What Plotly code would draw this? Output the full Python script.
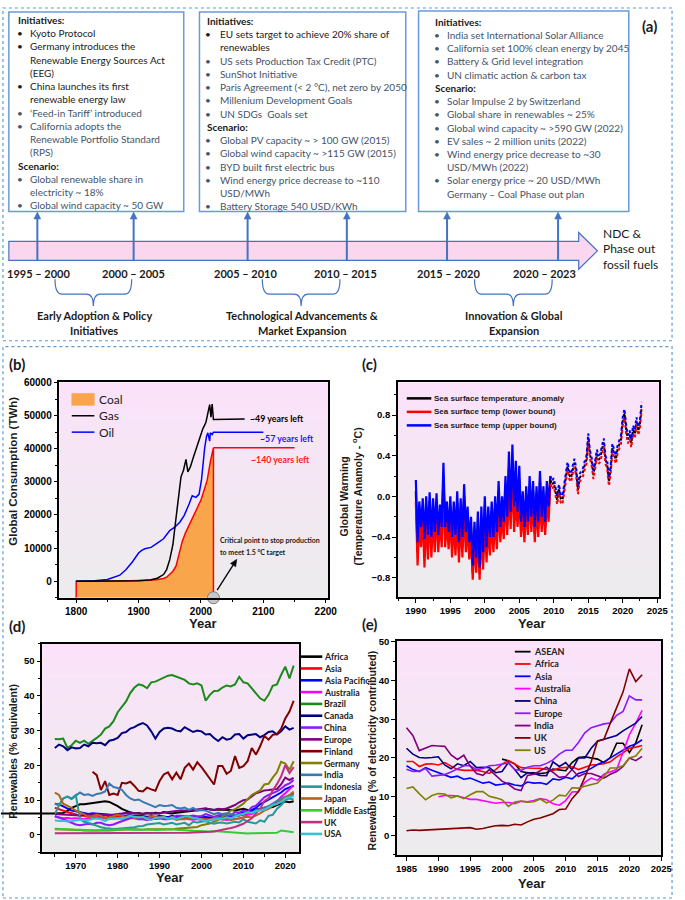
import plotly.graph_objects as go

W, H = 685, 900

# ======================= DATA =======================
# ---- (a) timeline text ----
BOX1_LINES = [
    ("h", "k", "Initiatives:"),
    ("b", "k", "Kyoto Protocol"),
    ("b", "k", "Germany introduces the"),
    ("c", "k", "Renewable Energy Sources Act"),
    ("c", "k", "(EEG)"),
    ("b", "k", "China launches its first"),
    ("c", "k", "renewable energy law"),
    ("b", "g", "‘Feed-in Tariff’ introduced"),
    ("b", "g", "California adopts the"),
    ("c", "g", "Renewable Portfolio Standard"),
    ("c", "g", "(RPS)"),
    ("h", "k", "Scenario:"),
    ("b", "g", "Global renewable share in"),
    ("c", "g", "electricity ~ 18%"),
    ("b", "g", "Global wind capacity ~ 50 GW"),
]
BOX2_LINES = [
    ("h", "k", "Initiatives:"),
    ("b", "k", "EU sets target to achieve 20% share of"),
    ("c", "k", "renewables"),
    ("b", "g", "US sets Production Tax Credit (PTC)"),
    ("b", "g", "SunShot Initiative"),
    ("b", "g", "Paris Agreement (< 2 °C), net zero by 2050"),
    ("b", "g", "Millenium Development Goals"),
    ("b", "g", "UN SDGs  Goals set"),
    ("h", "k", "Scenario:"),
    ("b", "g", "Global PV capacity ~ > 100 GW (2015)"),
    ("b", "g", "Global wind capacity ~ >115 GW (2015)"),
    ("b", "g", "BYD built first electric bus"),
    ("b", "g", "Wind energy price decrease to ~110"),
    ("c", "g", "USD/MWh"),
    ("b", "g", "Battery Storage 540 USD/KWh"),
]
BOX3_LINES = [
    ("h", "k", "Initiatives:"),
    ("b", "g", "India set International Solar Alliance"),
    ("b", "g", "California set 100% clean energy by 2045"),
    ("b", "g", "Battery & Grid level integration"),
    ("b", "g", "UN climatic action & carbon tax"),
    ("h", "k", "Scenario:"),
    ("b", "g", "Solar Impulse 2 by Switzerland"),
    ("b", "g", "Global share in renewables ~ 25%"),
    ("b", "g", "Global wind capacity ~ >590 GW (2022)"),
    ("b", "g", "EV sales ~ 2 million units (2022)"),
    ("b", "g", "Wind energy price decrease to ~30"),
    ("c", "g", "USD/MWh (2022)"),
    ("b", "g", "Solar energy price ~ 20 USD/MWh"),
    ("c", "g", "Germany – Coal Phase out plan"),
]
PERIOD_LABELS = ["1995 – 2000", "2000 – 2005", "2005 – 2010", "2010 – 2015", "2015 – 2020", "2020 – 2023"]
PHASE_LABELS = [("Early Adoption & Policy", "Initiatives"),
                ("Technological Advancements &", "Market Expansion"),
                ("Innovation & Global", "Expansion")]
END_LABEL = ["NDC &", "Phase out", "fossil fuels"]

# ---- (b) fossil fuel consumption (TWh) ----
B_NAMES = ["Coal", "Gas", "Oil"]
COAL_YEARS = [1800, 1850, 1900, 1920, 1930, 1940, 1945, 1950, 1955, 1960, 1965, 1970, 1975, 1980,
              1985, 1990, 1995, 2000, 2005, 2010, 2015, 2020]
COAL_TWH = [0, 0, 100, 300, 500, 800, 1200, 2000, 3000, 4500, 8000, 12000, 14500, 16500,
            18500, 20000, 22000, 24500, 27500, 30500, 36000, 40300]
COAL_PROJ_YEARS = [2020, 2150]
COAL_PROJ_TWH = [40300, 40300]
GAS_YEARS = [1800, 1850, 1900, 1920, 1930, 1940, 1945, 1950, 1955, 1960, 1965, 1968, 1972, 1976,
             1979, 1983, 1988, 1993, 1998, 2003, 2008, 2010, 2012, 2014, 2016, 2018, 2020]
GAS_TWH = [0, 0, 100, 400, 900, 2000, 3500, 6500, 11000, 19000, 27000, 31500, 33500, 36800,
           33000, 34500, 37500, 40500, 43000, 46000, 48000, 50000, 51000, 53300, 49500, 53500, 48800]
GAS_PROJ_YEARS = [2020, 2045, 2046, 2070]
GAS_PROJ_TWH = [48800, 48800, 49000, 49000]
OIL_YEARS = [1800, 1830, 1850, 1870, 1880, 1890, 1900, 1905, 1910, 1920, 1930, 1940, 1950, 1958,
             1966, 1973, 1981, 1986, 1992, 1997, 2001, 2004, 2006, 2009, 2011, 2014, 2015, 2018, 2020]
OIL_TWH = [0, 100, 500, 1800, 3500, 5800, 8500, 9300, 9800, 10200, 11500, 12800, 15300, 16300,
           17800, 19800, 23300, 25800, 25300, 26300, 30800, 37300, 40300, 43800, 44800, 42300, 44800, 44300, 45000]
OIL_PROJ_YEARS = [2020, 2100]
OIL_PROJ_TWH = [45000, 45000]
B_LABELS = ["~140 years left", "~49 years left", "~57 years left"]

# ---- (c) sea surface temperature anomaly, quarterly from 1990 ----
SST_START = 1990
SST_NAMES = ["Sea surface temperature_anomaly", "Sea surface temp (lower bound)", "Sea surface temp (upper bound)"]
SST_UPPER = [
    0.16, -0.45, -0.05, -0.30, -0.02, -0.42, 0.00, -0.38, 0.04, -0.40, -0.02, -0.35,
    0.03, -0.38, -0.08, -0.30, 0.33, -0.30, -0.05, -0.35, 0.00, -0.40, -0.05, -0.38,
    0.05, -0.45, -0.02, -0.40, 0.12, -0.35, -0.10, -0.45, -0.20, -0.68, -0.25, -0.60,
    -0.15, -0.70, -0.10, -0.55, 0.00, -0.50, -0.10, -0.40, -0.05, -0.40, 0.00, -0.35,
    0.15, -0.30, 0.00, -0.25, 0.20, -0.20, 0.44, -0.15, 0.51, -0.10, 0.35, -0.15,
    0.30, -0.25, 0.05, -0.30, 0.10, -0.25, 0.20, -0.20, 0.15, -0.30, 0.10, -0.25,
    0.25, -0.20, 0.10, -0.25, 0.15, -0.10, 0.20, 0.15, 0.18, 0.10, 0.00, 0.12,
    0.02, 0.00, 0.10, 0.20, 0.34, 0.25, 0.22, 0.30, 0.37, 0.28, 0.10, 0.22,
    0.25, 0.28, 0.35, 0.40, 0.62, 0.45, 0.38, 0.25, 0.35, 0.46, 0.40, 0.42,
    0.50, 0.57, 0.40, 0.35, 0.18, 0.30, 0.52, 0.45, 0.40, 0.50, 0.55, 0.60,
    0.78, 0.86, 0.70, 0.60, 0.65, 0.56, 0.70, 0.65, 0.78, 0.68, 0.75, 0.93]
SST_LOWER = [
    -0.05, -0.68, -0.25, -0.50, -0.20, -0.70, -0.20, -0.62, -0.15, -0.60, -0.22, -0.55,
    -0.15, -0.55, -0.25, -0.50, 0.10, -0.50, -0.25, -0.52, -0.20, -0.60, -0.25, -0.58,
    -0.15, -0.65, -0.22, -0.60, -0.10, -0.55, -0.30, -0.62, -0.40, -0.82, -0.45, -0.75,
    -0.35, -0.82, -0.30, -0.72, -0.20, -0.65, -0.30, -0.58, -0.25, -0.55, -0.20, -0.52,
    -0.05, -0.45, -0.20, -0.42, 0.00, -0.38, 0.15, -0.32, 0.20, -0.35, -0.05, -0.30,
    0.05, -0.40, -0.15, -0.45, -0.10, -0.38, 0.00, -0.35, -0.05, -0.45, -0.10, -0.40,
    0.05, -0.35, -0.10, -0.38, -0.05, -0.25, 0.12, 0.07, 0.10, 0.02, -0.08, 0.04,
    -0.06, -0.08, 0.02, 0.12, 0.26, 0.17, 0.14, 0.22, 0.29, 0.20, 0.02, 0.14,
    0.17, 0.20, 0.27, 0.32, 0.54, 0.37, 0.30, 0.17, 0.27, 0.38, 0.32, 0.34,
    0.42, 0.49, 0.32, 0.27, 0.10, 0.22, 0.44, 0.37, 0.32, 0.42, 0.47, 0.52,
    0.70, 0.78, 0.62, 0.52, 0.57, 0.48, 0.62, 0.57, 0.70, 0.60, 0.67, 0.85]
SST_ANOM = [
    0.05, -0.55, -0.15, -0.40, -0.10, -0.55, -0.10, -0.50, -0.05, -0.50, -0.12, -0.45,
    -0.05, -0.46, -0.16, -0.40, 0.20, -0.40, -0.15, -0.43, -0.10, -0.50, -0.15, -0.48,
    -0.05, -0.55, -0.12, -0.50, 0.00, -0.45, -0.20, -0.53, -0.30, -0.75, -0.35, -0.68,
    -0.25, -0.76, -0.20, -0.63, -0.10, -0.57, -0.20, -0.49, -0.15, -0.47, -0.10, -0.43,
    0.05, -0.37, -0.10, -0.33, 0.10, -0.29, 0.28, -0.23, 0.28, -0.15, 0.15, -0.22,
    0.17, -0.32, -0.05, -0.37, 0.00, -0.31, 0.10, -0.27, 0.05, -0.37, 0.00, -0.32,
    0.15, -0.27, 0.00, -0.31, 0.05, -0.17, 0.16, 0.11, 0.14, 0.06, -0.04, 0.08,
    -0.02, -0.04, 0.06, 0.16, 0.30, 0.21, 0.18, 0.26, 0.33, 0.24, 0.06, 0.18,
    0.21, 0.24, 0.31, 0.36, 0.58, 0.41, 0.34, 0.21, 0.31, 0.42, 0.36, 0.38,
    0.46, 0.53, 0.36, 0.31, 0.14, 0.26, 0.48, 0.41, 0.36, 0.46, 0.51, 0.56,
    0.74, 0.82, 0.66, 0.56, 0.61, 0.52, 0.66, 0.61, 0.74, 0.64, 0.71, 0.89]
SST_DOTTED_FROM = 2009.5

# ---- (d) renewables, % primary energy (equivalent), 1965-2022 ----
D_START = 1965
D_AFRICA = [6.2, 6.3, 6.3, 7.0, 7.8, 8.3, 8.8, 8.8, 9.0, 9.1,
            9.3, 9.5, 9.7, 9.5, 9.0, 8.3, 7.5, 6.9, 6.5, 6.2,
            6.3, 6.0, 6.3, 6.1, 6.4, 6.2, 6.6, 6.3, 6.2, 6.4,
            6.5, 6.7, 6.8, 7.0, 7.1, 7.3, 7.5, 7.4, 7.2, 7.3,
            7.3, 7.4, 7.2, 7.0, 7.3, 7.5, 7.2, 7.0, 7.3, 7.5,
            7.6, 7.7, 8.0, 8.6, 9.2, 9.6, 9.4, 9.7]
D_ASIA = [7.8, 7.5, 7.0, 6.6, 6.2, 5.8, 5.5, 5.5, 5.2, 5.5,
          5.6, 5.3, 5.0, 5.2, 5.3, 5.4, 5.5, 5.4, 5.6, 5.3,
          5.4, 5.2, 5.0, 5.2, 5.0, 5.3, 5.1, 5.0, 5.3, 4.9,
          5.1, 5.0, 5.0, 5.2, 5.0, 5.0, 4.9, 4.8, 4.6, 4.9,
          4.9, 5.0, 5.0, 5.4, 5.6, 6.0, 6.0, 6.5, 7.0, 7.5,
          7.8, 8.2, 8.6, 9.2, 9.8, 10.8, 11.2, 12.0]
D_ASIA_PACIFIC = [9.0, 8.8, 8.2, 7.6, 7.0, 6.8, 6.5, 6.3, 6.0, 6.2,
                  6.1, 6.0, 5.8, 5.9, 5.7, 5.8, 5.6, 5.5, 5.7, 5.4,
                  5.6, 5.4, 5.2, 5.4, 5.2, 5.5, 5.3, 5.1, 5.5, 5.1,
                  5.3, 5.2, 5.2, 5.4, 5.2, 5.3, 5.1, 5.0, 4.9, 5.1,
                  5.1, 5.2, 5.2, 5.6, 6.0, 6.5, 6.6, 7.2, 7.8, 8.8,
                  9.5, 10.3, 11.0, 11.6, 12.2, 13.2, 13.6, 14.2]
D_AUSTRALIA = [5.2, 5.0, 4.8, 4.9, 4.7, 4.8, 4.6, 4.5, 4.7, 4.8,
               4.9, 5.0, 4.7, 4.6, 4.8, 4.9, 4.7, 4.5, 4.9, 5.0,
               4.8, 4.7, 4.9, 4.8, 4.6, 4.8, 4.9, 4.6, 4.8, 4.5,
               4.6, 4.7, 4.5, 4.4, 4.6, 4.3, 4.4, 4.2, 4.5, 4.6,
               4.5, 4.3, 4.4, 4.6, 4.7, 5.0, 5.8, 6.0, 6.8, 7.5,
               7.3, 7.8, 8.5, 9.5, 11.0, 12.0, 13.2, 14.3]
D_BRAZIL = [27.6, 27.5, 27.7, 25.0, 25.8, 27.1, 26.5, 27.1, 26.2, 27.0,
            27.9, 28.9, 30.6, 31.2, 32.7, 35.3, 36.7, 38.4, 40.8, 42.4,
            43.3, 43.0, 42.2, 43.9, 44.1, 44.6, 45.2, 45.8, 46.0, 45.5,
            45.0, 44.6, 43.6, 43.3, 43.6, 43.0, 38.6, 40.3, 41.4, 41.5,
            42.4, 43.0, 42.7, 43.3, 45.5, 43.9, 43.6, 42.2, 40.8, 39.3,
            38.6, 40.3, 42.9, 43.3, 46.0, 48.4, 45.0, 48.7]
D_CANADA = [25.0, 26.0, 25.5, 24.4, 25.2, 24.9, 25.0, 26.0, 25.5, 26.5,
            26.4, 26.5, 25.8, 27.1, 27.4, 27.9, 29.3, 29.6, 30.6, 31.0,
            31.7, 32.2, 31.5, 29.8, 27.7, 29.6, 30.6, 30.8, 30.6, 30.0,
            29.8, 31.0, 30.3, 29.6, 30.0, 29.8, 28.9, 29.0, 27.9, 27.0,
            28.1, 27.4, 27.7, 28.9, 29.0, 27.7, 28.7, 28.9, 29.0, 28.1,
            28.7, 29.6, 29.8, 28.9, 29.8, 31.2, 30.3, 30.8]
D_CHINA = [5.5, 5.0, 4.5, 4.0, 3.5, 3.0, 2.8, 3.0, 3.2, 3.0,
           3.5, 3.5, 3.0, 2.8, 3.0, 3.5, 4.0, 4.5, 4.8, 4.8,
           4.5, 4.5, 4.3, 4.5, 4.6, 4.8, 4.5, 4.5, 5.0, 5.5,
           5.5, 5.4, 5.4, 5.6, 5.3, 5.4, 6.0, 5.6, 5.2, 5.7,
           5.8, 5.5, 5.6, 6.6, 6.4, 7.0, 6.6, 8.0, 8.4, 9.6,
           10.8, 11.5, 12.0, 12.5, 13.3, 14.3, 14.8, 15.8]
D_EUROPE = [6.0, 6.0, 5.9, 5.8, 5.7, 5.6, 5.6, 5.7, 5.8, 6.0,
            6.0, 5.6, 5.8, 5.7, 5.8, 6.0, 6.2, 6.4, 6.4, 6.2,
            6.2, 6.1, 6.2, 6.3, 6.1, 6.3, 6.4, 6.7, 6.9, 6.9,
            7.0, 6.9, 7.0, 7.2, 7.3, 7.6, 7.7, 7.3, 7.2, 7.5,
            7.4, 7.6, 8.0, 8.6, 9.4, 10.0, 10.2, 11.2, 12.0, 12.3,
            12.8, 12.9, 13.0, 13.2, 14.5, 16.5, 15.8, 16.4]
D_FINLAND_START = 1974
D_FINLAND = [18.2, 17.2, 12.9, 15.5, 11.5, 11.9, 11.5, 15.0, 14.8, 15.3,
             14.1, 12.7, 12.5, 13.6, 13.1, 12.7, 15.5, 17.4, 18.0, 16.0,
             17.9, 16.0, 19.3, 20.5, 18.8, 20.9, 19.5, 17.9, 16.0, 14.5,
             19.8, 19.8, 17.6, 18.4, 22.7, 19.3, 19.8, 21.2, 25.0, 23.1,
             25.5, 28.5, 27.4, 28.8, 29.0, 30.5, 33.5, 35.5, 38.6]
D_GERMANY = [1.6, 1.6, 1.5, 1.5, 1.4, 1.5, 1.4, 1.3, 1.2, 1.3,
             1.3, 1.2, 1.3, 1.3, 1.4, 1.4, 1.5, 1.6, 1.6, 1.6,
             1.5, 1.5, 1.6, 1.6, 1.5, 1.5, 1.5, 1.6, 1.6, 1.8,
             1.9, 1.8, 1.9, 2.1, 2.3, 2.8, 3.0, 3.3, 3.8, 4.3,
             5.3, 6.0, 7.0, 7.4, 8.2, 9.0, 10.3, 11.5, 12.2, 12.8,
             14.5, 14.7, 16.5, 18.0, 21.0, 20.5, 18.7, 21.2]
D_INDIA = [9.0, 8.5, 10.5, 11.0, 10.3, 11.2, 12.2, 11.5, 11.7, 11.2,
           11.8, 12.0, 12.5, 14.8, 13.8, 13.5, 13.0, 11.5, 10.5, 10.0,
           10.2, 9.5, 9.0, 8.3, 8.0, 8.6, 8.3, 8.4, 8.6, 7.8,
           7.6, 7.9, 7.2, 7.8, 7.0, 7.2, 7.0, 6.5, 6.0, 6.4,
           6.0, 6.2, 6.0, 5.8, 5.5, 6.2, 6.5, 6.3, 7.2, 7.4,
           7.8, 8.3, 9.0, 9.8, 10.5, 11.0, 11.0, 11.7]
D_INDONESIA = [6.0, 8.5, 10.5, 11.0, 10.5, 11.5, 4.5, 3.8, 3.5, 3.0,
               2.5, 2.2, 2.0, 1.8, 1.7, 1.8, 1.9, 2.0, 2.0, 2.2,
               2.5, 2.6, 3.0, 3.2, 3.3, 3.4, 3.0, 3.2, 3.5, 3.0,
               3.3, 3.5, 2.8, 3.8, 3.6, 3.8, 4.0, 3.5, 3.2, 3.5,
               3.6, 3.3, 3.5, 3.8, 3.6, 4.5, 3.8, 3.5, 3.3, 4.2,
               3.8, 5.5, 5.8, 7.5, 8.5, 10.0, 10.5, 10.2]
D_JAPAN = [12.2, 11.5, 9.0, 8.5, 7.8, 7.0, 6.5, 6.0, 5.0, 5.5,
           5.8, 5.5, 4.8, 5.0, 5.3, 5.8, 5.5, 5.2, 5.6, 4.8,
           5.2, 5.0, 4.9, 5.3, 5.1, 5.0, 5.3, 4.6, 5.2, 4.3,
           4.6, 4.5, 4.8, 5.0, 4.6, 4.6, 4.5, 4.4, 4.8, 5.0,
           4.4, 4.8, 4.3, 4.5, 4.7, 5.0, 5.2, 5.0, 5.5, 6.2,
           7.0, 7.5, 8.5, 9.0, 9.8, 10.8, 11.5, 12.5]
D_MIDDLE_EAST = [1.8, 1.7, 1.7, 1.6, 1.6, 1.5, 1.5, 1.4, 1.4, 1.3,
                 1.3, 1.4, 1.5, 1.6, 1.5, 1.5, 1.6, 1.6, 1.5, 1.5,
                 1.6, 1.7, 1.6, 1.5, 1.4, 1.5, 1.6, 1.7, 1.6, 1.5,
                 1.5, 1.4, 1.3, 1.2, 1.1, 1.2, 1.1, 1.0, 1.1, 1.0,
                 0.9, 0.9, 0.8, 0.7, 0.4, 0.4, 0.4, 0.5, 0.5, 0.4,
                 0.5, 0.5, 0.5, 0.6, 1.3, 1.1, 1.0, 0.8]
D_UK = [0.5, 0.5, 0.5, 0.5, 0.5, 0.5, 0.4, 0.4, 0.4, 0.4,
        0.4, 0.4, 0.4, 0.4, 0.4, 0.4, 0.4, 0.4, 0.4, 0.5,
        0.5, 0.5, 0.5, 0.5, 0.5, 0.5, 0.5, 0.5, 0.5, 0.6,
        0.6, 0.6, 0.6, 0.7, 0.7, 0.8, 0.8, 0.9, 1.0, 1.2,
        1.5, 1.7, 2.0, 2.3, 2.8, 3.2, 4.0, 4.8, 6.2, 7.5,
        9.8, 10.5, 12.8, 14.6, 16.8, 20.1, 17.8, 19.5]
D_USA = [4.2, 4.0, 4.1, 3.9, 4.0, 4.2, 4.3, 4.3, 4.2, 4.6,
         4.7, 4.5, 4.0, 4.7, 4.6, 4.8, 4.6, 5.0, 5.5, 5.2,
         5.0, 5.2, 4.6, 4.3, 4.9, 5.0, 5.1, 4.7, 5.1, 4.7,
         5.0, 5.3, 5.3, 4.9, 4.8, 4.4, 3.9, 4.4, 4.5, 4.6,
         4.7, 5.1, 4.8, 5.3, 5.8, 6.0, 6.5, 6.3, 6.8, 7.0,
         7.3, 7.9, 8.6, 8.9, 9.5, 10.5, 10.8, 11.2]
D_NAMES = ["Africa", "Asia", "Asia Pacific", "Australia", "Brazil", "Canada", "China", "Europe",
           "Finland", "Germany", "India", "Indonesia", "Japan", "Middle East", "UK", "USA"]

# ---- (e) renewables, % of electricity, 1985-2022 ----
E_START = 1985
E_ASEAN_START = 2000
E_AUSTRALIA_START = 1990
E_ASEAN = [19.7, 19.3, 18.5, 16.5, 16.2, 16.2, 16.0, 16.2, 17.1, 16.9, 16.7, 18.8,
           20.1, 20.3, 20.0, 19.7, 18.8, 20.1, 23.8, 23.8, 21.4, 23.9, 28.6]
E_AFRICA = [19.1, 19.1, 17.8, 18.4, 18.5, 18.2, 18.8, 17.8, 17.0, 16.8,
            16.8, 16.8, 16.5, 16.0, 17.0, 18.4, 19.3, 18.3, 17.5, 17.4,
            17.4, 17.3, 17.0, 16.8, 17.4, 17.6, 17.7, 17.0, 17.6, 18.2,
            18.3, 18.5, 19.0, 20.3, 21.3, 22.5, 22.8, 23.2]
E_ASIA = [18.0, 17.0, 16.5, 17.5, 16.8, 16.2, 15.7, 15.0, 15.3, 14.5,
          14.8, 14.2, 13.5, 13.8, 13.0, 13.2, 13.5, 13.0, 12.8, 13.8,
          13.5, 13.6, 13.2, 14.6, 14.3, 15.0, 14.6, 16.0, 16.5, 17.3,
          18.3, 19.0, 20.0, 21.0, 22.0, 23.0, 23.6, 24.7]
E_AUSTRALIA = [10.0, 10.3, 10.3, 10.2, 9.7,
               9.3, 9.3, 9.0, 8.5, 8.3, 8.5, 8.5, 8.2, 8.8, 8.7,
               9.0, 9.5, 9.2, 8.2, 7.8, 9.0, 11.2, 11.3, 13.7, 14.8,
               14.2, 15.8, 16.3, 17.0, 21.5, 26.0, 29.0, 32.3]
E_CHINA = [22.5, 21.0, 20.1, 20.0, 20.1, 20.3, 18.2, 17.2, 18.5, 18.0,
           19.1, 17.5, 17.6, 17.5, 16.2, 16.5, 18.8, 17.0, 14.9, 16.2,
           16.0, 15.5, 15.4, 19.0, 17.8, 18.8, 16.9, 20.0, 20.0, 22.5,
           24.3, 24.8, 25.3, 25.8, 27.0, 28.0, 29.0, 30.7]
E_EUROPE = [17.1, 16.5, 16.6, 17.3, 15.3, 15.5, 15.7, 16.4, 17.2, 18.0,
            18.0, 17.0, 17.3, 18.0, 18.1, 18.4, 18.7, 17.0, 16.8, 17.6,
            18.0, 18.0, 18.6, 19.5, 21.0, 22.0, 22.0, 24.0, 26.5, 27.8,
            28.3, 28.8, 29.0, 31.0, 32.0, 36.0, 35.0, 35.0]
E_INDIA = [27.8, 25.8, 21.9, 22.5, 23.2, 23.1, 23.0, 20.8, 19.6, 20.7,
           17.9, 16.0, 15.5, 17.0, 15.5, 14.0, 13.2, 12.0, 11.6, 15.5,
           15.8, 16.7, 17.6, 16.3, 15.0, 15.2, 17.0, 15.2, 16.0, 16.0,
           15.4, 14.8, 15.8, 16.5, 17.8, 20.0, 19.3, 20.4]
E_UK = [1.2, 1.4, 1.3, 1.4, 1.5, 1.6, 1.6, 1.8, 1.8, 2.0,
        2.0, 1.6, 1.8, 2.2, 2.5, 2.6, 2.5, 2.9, 2.7, 3.5,
        4.2, 4.5, 5.0, 5.6, 6.7, 6.8, 9.5, 11.3, 15.0, 19.0,
        24.4, 24.8, 29.0, 33.0, 37.0, 43.0, 39.7, 41.5]
E_US = [12.1, 12.5, 10.8, 9.2, 10.3, 10.8, 10.7, 9.7, 10.2, 9.5,
        10.5, 11.3, 11.3, 10.1, 9.7, 9.2, 7.5, 8.6, 8.9, 8.6,
        8.7, 9.4, 8.4, 9.1, 10.4, 10.2, 12.3, 12.2, 12.7, 13.2,
        13.5, 15.2, 17.4, 17.4, 18.0, 20.0, 20.5, 22.5]
E_NAMES = ["ASEAN", "Africa", "Asia", "Australia", "China", "Europe", "India", "UK", "US"]

# ======================= STYLE / HELPERS =======================
shapes, annotations = [], []
TXT_DARK = "#1a1a1a"
TXT_GRAY = "#44546a"
BLUE_EDGE = "#4472c4"
LBL_FONT = "Liberation Sans"


def X(px):
    return px / W


def Y(py):
    return 1 - py / H


def add_text(x, y, s, size=10, color=TXT_DARK, family="Lato", xanchor="left",
             yanchor="middle", angle=0, bold=False, align="left"):
    if bold:
        s = "<b>" + s + "</b>"
    annotations.append(dict(x=X(x), y=Y(y), xref="paper", yref="paper", text=s, showarrow=False,
                            font=dict(size=size, color=color, family=family), xanchor=xanchor,
                            yanchor=yanchor, textangle=angle, align=align, borderpad=0))


def add_rect(x0, y0, x1, y1, color, width=1.0, dash="solid", fill="rgba(0,0,0,0)", layer="above"):
    shapes.append(dict(type="rect", xref="paper", yref="paper", x0=X(x0), x1=X(x1), y0=Y(y1), y1=Y(y0),
                       line=dict(color=color, width=width, dash=dash), fillcolor=fill, layer=layer))


def add_seg(x0, y0, x1, y1, color, width=1.5, dash="solid"):
    shapes.append(dict(type="line", xref="paper", yref="paper", x0=X(x0), y0=Y(y0), x1=X(x1), y1=Y(y1),
                       line=dict(color=color, width=width, dash=dash), layer="above"))


def add_path(cmds, color, width=1.2, fill="rgba(0,0,0,0)", close=False):
    parts = []
    for letter, pts in cmds:
        parts.append(letter + " ".join(f"{X(px):.5f},{Y(py):.5f}" for px, py in pts))
    p = " ".join(parts) + (" Z" if close else "")
    shapes.append(dict(type="path", xref="paper", yref="paper", path=p,
                       line=dict(color=color, width=width), fillcolor=fill, layer="above"))


def add_polygon(pts, color, width=1.2, fill="rgba(0,0,0,0)"):
    cmds = [("M", [pts[0]])] + [("L", [p]) for p in pts[1:]]
    add_path(cmds, color, width, fill, close=True)


def add_arrow(x0, y0, x1, y1, color, width=1.5, head=6.5, head_w=3.2):
    dx, dy = x1 - x0, y1 - y0
    L = (dx * dx + dy * dy) ** 0.5
    ux, uy = dx / L, dy / L
    bx, by = x1 - ux * head, y1 - uy * head
    add_seg(x0, y0, bx, by, color, width)
    add_polygon([(x1, y1), (bx - uy * head_w, by + ux * head_w), (bx + uy * head_w, by - ux * head_w)],
                color, 0.5, fill=color)


def add_gradient(xd, yd, top=(251, 226, 250), bottom=(236, 236, 236), n=48):
    for k in range(n):
        t = (k + 0.5) / n
        c = tuple(round(bottom[j] + (top[j] - bottom[j]) * t) for j in range(3))
        shapes.append(dict(type="rect", xref=xd, yref=yd, x0=0, x1=1, y0=k / n,
                           y1=min(1.0, (k + 1) / n + 0.004), fillcolor=f"rgb{c}",
                           line=dict(width=0), layer="below"))


def axis_style(**kw):
    base = dict(showline=True, linecolor="black", linewidth=1.5, mirror=True, ticks="outside",
                ticklen=4, tickwidth=1.2, tickcolor="black", showgrid=False, zeroline=False,
                tickfont=dict(family=LBL_FONT, size=9.5, color="black", weight="bold"))
    base.update(kw)
    return base


def minor(dtick):
    return dict(ticks="outside", ticklen=2.5, tickwidth=1, tickcolor="black", dtick=dtick, showgrid=False)


fig = go.Figure()

# ======================= PANEL (a) =======================
add_rect(2, 2, 683, 337, "#5b9bd5", 1.2, "dot")
add_rect(2, 343, 683, 898, "#5b9bd5", 1.2, "dot")

BOX_FRAMES = [(8, 6, 186, 207), (202, 6, 412, 207), (425, 5, 639, 207)]
BOX_TEXT_POS = [(16.5, 19.5, 29, 14.0), (209, 211, 221.7, 15.0), (441, 443.5, 453.3, 15.7)]
for (x0, y0, x1, y1) in BOX_FRAMES:
    add_rect(x0, y0, x1, y1, "#6a9bd8", 1.5)
for lines, (xh, xb, xt, y0) in zip([BOX1_LINES, BOX2_LINES, BOX3_LINES], BOX_TEXT_POS):
    for i, (kind, tone, s) in enumerate(lines):
        yy = y0 + i * 13.33
        col = TXT_DARK if tone == "k" else TXT_GRAY
        if kind == "h":
            add_text(xh, yy, s, size=10, color=TXT_DARK, bold=True)
        else:
            if kind == "b":
                add_text(xb, yy, "•", size=10, color=col, xanchor="center")
            add_text(xt, yy, s, size=10, color=col)
add_text(660, 20, "(a)", size=15, bold=True, xanchor="center")

# timeline band with arrow head
add_polygon([(8, 237), (588, 237), (588, 228), (607, 246.5), (588, 265), (588, 256), (8, 256)],
            BLUE_EDGE, 1.2, fill="#fbd6ef")
ARROW_X = [37, 135, 251, 352, 454, 567]
for ax_ in ARROW_X:
    add_arrow(ax_, 256, ax_, 207.5, BLUE_EDGE, width=2, head=7, head_w=3.5)
PERIOD_X = [38, 135, 249, 351, 455, 553]
for lbl, px_ in zip(PERIOD_LABELS, PERIOD_X):
    add_text(px_, 269, lbl, size=11, bold=True, xanchor="center")
for i, s in enumerate(END_LABEL):
    add_text(612, 229 + i * 15.5, s, size=12, color=TXT_DARK)

BRACES = [(55, 133), (266, 345), (482, 561)]
for (b0, b1), (l1, l2) in zip(BRACES, PHASE_LABELS):
    c = (b0 + b1) / 2
    add_path([("M", [(b0, 275)]), ("Q", [(b0, 290), (b0 + 7, 290)]), ("L", [(c - 7, 290)]),
              ("Q", [(c, 290), (c, 302)]), ("Q", [(c, 290), (c + 7, 290)]), ("L", [(b1 - 7, 290)]),
              ("Q", [(b1, 290), (b1, 275)])], BLUE_EDGE, 1.2)
    add_text(c + 1, 312, l1, size=11, bold=True, xanchor="center")
    add_text(c + 1, 327, l2, size=11, bold=True, xanchor="center")

# ======================= PANEL (b) =======================
B_YMIN = -5000
B_COLORS = ["#ff0000", "#000000", "#0000ff"]
fig.add_trace(go.Scatter(x=[COAL_YEARS[0]] + COAL_YEARS + [COAL_YEARS[-1]],
                         y=[B_YMIN] + COAL_TWH + [B_YMIN], mode="lines", fill="toself",
                         fillcolor="#f9a54c", line=dict(color=B_COLORS[0], width=1.5),
                         xaxis="x", yaxis="y", hoverinfo="skip"))
fig.add_trace(go.Scatter(x=COAL_PROJ_YEARS, y=COAL_PROJ_TWH, mode="lines",
                         line=dict(color=B_COLORS[0], width=1.5), xaxis="x", yaxis="y"))
fig.add_trace(go.Scatter(x=OIL_YEARS + OIL_PROJ_YEARS[1:], y=OIL_TWH + OIL_PROJ_TWH[1:], mode="lines",
                         line=dict(color=B_COLORS[2], width=1.5), xaxis="x", yaxis="y"))
fig.add_trace(go.Scatter(x=GAS_YEARS + GAS_PROJ_YEARS[1:], y=GAS_TWH + GAS_PROJ_TWH[1:], mode="lines",
                         line=dict(color=B_COLORS[1], width=1.5), xaxis="x", yaxis="y"))
fig.add_trace(go.Scatter(x=[COAL_YEARS[-1]], y=[B_YMIN], mode="markers", cliponaxis=False,
                         marker=dict(size=12, color="#c8c8c8", line=dict(color="#7a7a7a", width=1)),
                         xaxis="x", yaxis="y"))
add_gradient("x domain", "y domain")
add_rect(72, 390, 95, 402, "#f9a54c", 0.5, fill="#f9a54c")
add_seg(72, 412.5, 95, 412.5, B_COLORS[1], 1.5)
add_seg(72, 429, 95, 429, B_COLORS[2], 1.5)
for i, nm in enumerate(B_NAMES):
    add_text(99, 396 + i * 16.5, nm, size=12, color=TXT_DARK)
add_text(252, 415, B_LABELS[1], size=8.8, bold=True, color="#000000")
add_text(263, 435, B_LABELS[2], size=8.8, bold=True, color="#1a1aff")
add_text(253, 456.5, B_LABELS[0], size=8.8, bold=True, color="#ff1a1a")
add_text(222, 537.5, "Critical point to stop production", size=7, bold=True)
add_text(222, 549, "to meet 1.5 <sup>o</sup>C target", size=7, bold=True)
add_arrow(220, 588, 240, 557, "#000000", width=1.3, head=7, head_w=3.2)
add_text(16, 360, "(b)", size=15, bold=True, xanchor="center")
add_text(12, 468, "Global Consumption (TWh)", size=11.5, family=LBL_FONT, bold=True, angle=-90,
         xanchor="center")
add_text(205, 622, "Year", size=13, family=LBL_FONT, bold=True, xanchor="center")

# ======================= PANEL (c) =======================
SST_T = [SST_START + i / 4 for i in range(len(SST_UPPER))]
split = next(i for i, t in enumerate(SST_T) if t >= SST_DOTTED_FROM)
C_COLORS = ["#000000", "#ff0000", "#0000ff"]
for vals, col in zip([SST_ANOM, SST_LOWER, SST_UPPER], C_COLORS):
    fig.add_trace(go.Scatter(x=SST_T[:split + 1], y=vals[:split + 1], mode="lines",
                             line=dict(color=col, width=2.2), xaxis="x2", yaxis="y2"))
for vals, col in zip([SST_ANOM, SST_LOWER, SST_UPPER], C_COLORS):
    fig.add_trace(go.Scatter(x=SST_T[split:], y=vals[split:], mode="lines",
                             line=dict(color=col, width=2, dash="dot"), xaxis="x2", yaxis="y2"))
add_gradient("x2 domain", "y2 domain")
for i, (nm, col) in enumerate(zip(SST_NAMES, C_COLORS)):
    yy = 395 + i * 13.6
    add_seg(413, yy, 438, yy, col, 2.5)
    add_text(440, yy, nm, size=8, family=LBL_FONT, bold=True)
add_text(375, 360, "(c)", size=15, bold=True, xanchor="center")
add_text(356, 494, "Global Warming<br>(Temperature Anamoly - <sup>o</sup>C)", size=10.5, family=LBL_FONT,
         bold=True, angle=-90, xanchor="center", align="center")
add_text(540, 622, "Year", size=13, family=LBL_FONT, bold=True, xanchor="center")

# ======================= PANEL (d) =======================
D_SERIES = [D_AFRICA, D_ASIA, D_ASIA_PACIFIC, D_AUSTRALIA, D_BRAZIL, D_CANADA, D_CHINA, D_EUROPE,
            D_FINLAND, D_GERMANY, D_INDIA, D_INDONESIA, D_JAPAN, D_MIDDLE_EAST, D_UK, D_USA]
D_COLORS = ["#000000", "#ff0000", "#0000ff", "#ff00ff", "#1a8a1a", "#000080", "#8c1aff", "#800080",
            "#800000", "#808000", "#3a78b5", "#269999", "#b0661e", "#33cc33", "#c03080", "#33c3d3"]
for nm, vals, col in zip(D_NAMES, D_SERIES, D_COLORS):
    start = D_FINLAND_START if nm == "Finland" else D_START
    fig.add_trace(go.Scatter(x=list(range(start, start + len(vals))), y=vals, mode="lines",
                             line=dict(color=col, width=2), xaxis="x3", yaxis="y3"))
add_gradient("x3 domain", "y3 domain")
D_XR, D_YR = [1962, 2023.2], [-5, 55]
D_PX = (42, 303)
shapes.append(dict(type="line", xref="x3 domain", yref="y3 domain",
                   x0=-D_PX[0] / (D_PX[1] - D_PX[0]), x1=(D_START - D_XR[0]) / (D_XR[1] - D_XR[0]),
                   y0=(D_AFRICA[0] - D_YR[0]) / (D_YR[1] - D_YR[0]),
                   y1=(D_AFRICA[0] - D_YR[0]) / (D_YR[1] - D_YR[0]),
                   line=dict(color=D_COLORS[0], width=2), layer="above"))
for i, (nm, col) in enumerate(zip(D_NAMES, D_COLORS)):
    yy = 655 + i * 11.9
    add_seg(305, yy, 327, yy, col, 2.6)
    add_text(327.5, yy, nm, size=8.8, bold=True, color="#222222")
add_text(16, 624, "(d)", size=15, bold=True, xanchor="center")
add_text(12, 750, "Renewables (% equivalent)", size=10.5, family=LBL_FONT, bold=True, angle=-90,
         xanchor="center")
add_text(172, 877, "Year", size=13, family=LBL_FONT, bold=True, xanchor="center")

# ======================= PANEL (e) =======================
E_SERIES = [E_ASEAN, E_AFRICA, E_ASIA, E_AUSTRALIA, E_CHINA, E_EUROPE, E_INDIA, E_UK, E_US]
E_COLORS = ["#000000", "#ff0000", "#0000ff", "#ff00ff", "#000080", "#8c1aff", "#800080", "#800000", "#808000"]
for nm, vals, col in zip(E_NAMES, E_SERIES, E_COLORS):
    start = {"ASEAN": E_ASEAN_START, "Australia": E_AUSTRALIA_START}.get(nm, E_START)
    fig.add_trace(go.Scatter(x=list(range(start, start + len(vals))), y=vals, mode="lines",
                             line=dict(color=col, width=1.6), xaxis="x4", yaxis="y4"))
add_gradient("x4 domain", "y4 domain")
for i, (nm, col) in enumerate(zip(E_NAMES, E_COLORS)):
    yy = 650 + i * 12.4
    add_seg(523, yy, 539, yy, col, 1.8)
    add_text(541, yy, nm, size=9, bold=True, color="#222222")
add_text(375, 622, "(e)", size=15, bold=True, xanchor="center")
add_text(378, 749, "Renewable (% of electricity contributed)", size=10.5, family=LBL_FONT, bold=True,
         angle=-90, xanchor="center")
add_text(540, 883, "Year", size=13, family=LBL_FONT, bold=True, xanchor="center")

# ======================= LAYOUT =======================
fig.update_layout(
    width=W, height=H, autosize=False, margin=dict(l=0, r=0, t=0, b=0), paper_bgcolor="white",
    plot_bgcolor="rgba(0,0,0,0)", showlegend=False, hovermode=False,
    xaxis=axis_style(domain=[X(59.5), X(333)], range=[1773.2, 2203.9], anchor="y", tick0=1800, dtick=100,
                     minor=minor(50), tickfont=dict(family=LBL_FONT, size=10, color="black", weight="bold")),
    yaxis=axis_style(domain=[Y(595.7), Y(379)], range=[B_YMIN, 60000], anchor="x", tick0=0, dtick=10000,
                     tickformat="d", minor=minor(5000),
                     tickfont=dict(family=LBL_FONT, size=10, color="black", weight="bold")),
    xaxis2=axis_style(domain=[X(404), X(670)], range=[1987.4, 2025.3], anchor="y2", tick0=1990, dtick=5,
                      minor=minor(2.5)),
    yaxis2=axis_style(domain=[Y(595), Y(379)], range=[-0.99, 1.12], anchor="x2", tick0=0, dtick=0.4,
                      tickformat=".1f", minor=minor(0.2)),
    xaxis3=axis_style(domain=[X(D_PX[0]), X(D_PX[1])], range=D_XR, anchor="y3", tick0=1970, dtick=10,
                      minor=minor(5)),
    yaxis3=axis_style(domain=[Y(852), Y(642)], range=D_YR, anchor="x3", tick0=0, dtick=10, minor=minor(5)),
    xaxis4=axis_style(domain=[X(403), X(672)], range=[1983.5, 2025], anchor="y4", tick0=1985, dtick=5),
    yaxis4=axis_style(domain=[Y(855), Y(639)], range=[-5.13, 50.26], anchor="x4", tick0=0, dtick=10,
                      minor=minor(5)),
    shapes=shapes, annotations=annotations,
)

fig.write_html("out.html", config={"displayModeBar": False, "responsive": False},
               post_script="document.body.style.margin='0px';document.body.style.overflow='hidden';")
